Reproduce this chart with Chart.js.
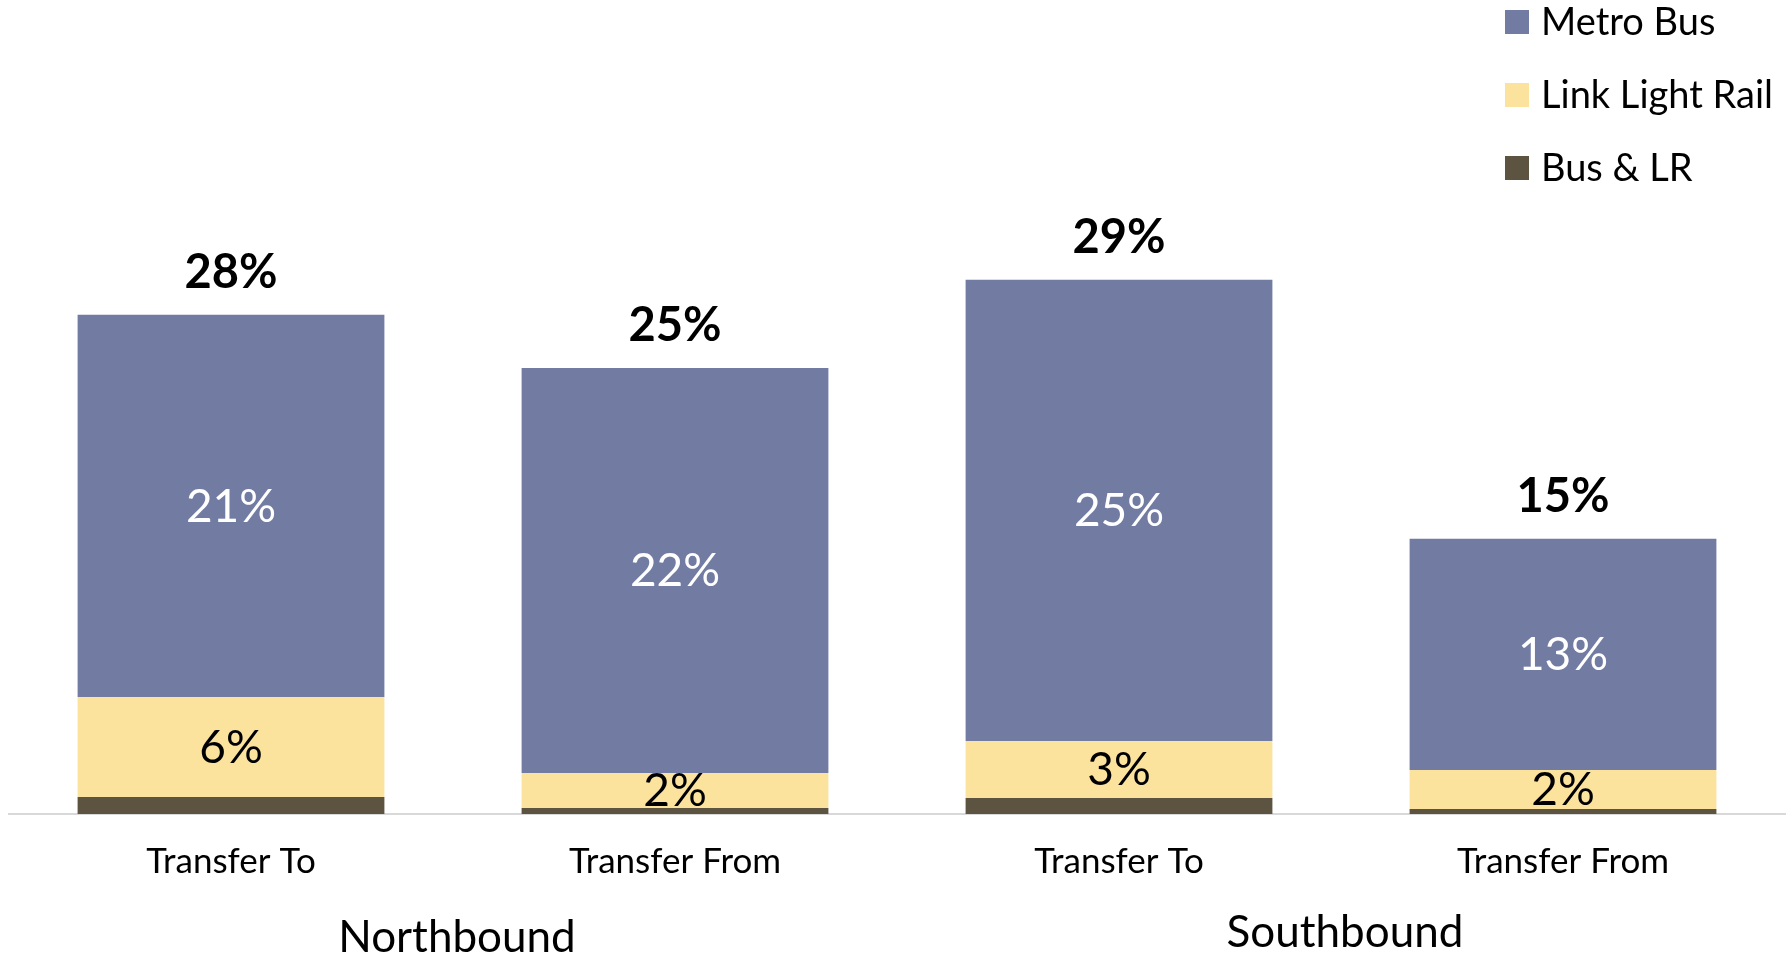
<!DOCTYPE html>
<html>
<head>
<meta charset="utf-8">
<script src="https://cdn.jsdelivr.net/npm/chart.js@4.4.1/dist/chart.umd.min.js"></script>
<style>
  html, body { margin: 0; padding: 0; background: #ffffff; }
  #c { display: block; }
</style>
</head>
<body>
<canvas id="c" width="1792" height="956"></canvas>
<script>
// ---- Data ----
const categories = ["Transfer To", "Transfer From", "Transfer To", "Transfer From"];
const groups = ["Northbound", "Southbound"];
const seriesNames = ["Metro Bus", "Link Light Rail", "Bus & LR"];
const metroBus = [21.08, 22.35, 25.44, 12.75];
const linkLightRail = [5.52, 1.93, 3.15, 2.15];
const busAndLR = [0.94, 0.33, 0.88, 0.28];

const COLORS = { metro: "#727CA3", link: "#FBE29D", both: "#5D5341" };
const FONT = "Lato, 'Open Sans', 'Noto Sans', sans-serif";

const labelPlugin = {
  id: "customLabels",
  afterDatasetsDraw(chart) {
    const ctx = chart.ctx;
    const xs = chart.scales.x;
    ctx.save();
    ctx.textAlign = "center";
    ctx.textBaseline = "middle";

    // segment labels (Metro Bus & Link Light Rail)
    chart.data.datasets.forEach((ds, di) => {
      if (!ds.showValue) return;
      const meta = chart.getDatasetMeta(di);
      meta.data.forEach((el, i) => {
        const v = ds.data[i];
        ctx.font = "400 46px " + FONT;
        ctx.fillStyle = ds.valueColor;
        ctx.fillText(Math.round(v) + "%", el.x, (el.y + el.base) / 2 + 1);
      });
    });

    // totals
    const topMeta = chart.getDatasetMeta(chart.data.datasets.length - 1);
    categories.forEach((c, i) => {
      const total = metroBus[i] + linkLightRail[i] + busAndLR[i];
      const el = topMeta.data[i];
      ctx.font = "700 47px " + FONT;
      ctx.fillStyle = "#000000";
      ctx.fillText(Math.round(total) + "%", el.x, el.y - 42);
    });

    // group labels
    const groupY = [938, 933];
    groups.forEach((g, gi) => {
      const x = (xs.getPixelForValue(gi * 2) + xs.getPixelForValue(gi * 2 + 1)) / 2;
      ctx.font = "400 44px " + FONT;
      ctx.fillStyle = "#000000";
      ctx.fillText(g, x + 4, groupY[gi]);
    });

    // legend (top to bottom: Metro Bus, Link Light Rail, Bus & LR)
    const legendColors = [COLORS.metro, COLORS.link, COLORS.both];
    ctx.textAlign = "left";
    seriesNames.forEach((name, i) => {
      const cy = 22 + i * 73;
      ctx.fillStyle = legendColors[i];
      ctx.fillRect(1505, cy - 12, 24, 24);
      ctx.font = "400 38px " + FONT;
      ctx.fillStyle = "#000000";
      ctx.fillText(name, 1541, cy + 1);
    });
    ctx.restore();
  }
};

new Chart(document.getElementById("c"), {
  type: "bar",
  data: {
    labels: categories,
    datasets: [
      { label: seriesNames[2], data: busAndLR, backgroundColor: COLORS.both, showValue: false },
      { label: seriesNames[1], data: linkLightRail, backgroundColor: COLORS.link, showValue: true, valueColor: "#000000" },
      { label: seriesNames[0], data: metroBus, backgroundColor: COLORS.metro, showValue: true, valueColor: "#ffffff" }
    ]
  },
  options: {
    responsive: false,
    animation: false,
    devicePixelRatio: 1,
    layout: { padding: { top: 89, left: 9, right: 7, bottom: 0 } },
    datasets: { bar: { categoryPercentage: 1.0, barPercentage: 0.691, borderWidth: 0 } },
    plugins: {
      legend: { display: false },
      tooltip: { enabled: false }
    },
    scales: {
      x: {
        stacked: true,
        grid: { display: false, drawTicks: false },
        border: { display: true, color: "#D9D9D9", width: 2 },
        ticks: { color: "#000000", font: { family: FONT, size: 35 }, padding: 27, maxRotation: 0 },
        afterFit(scale) { scale.height = 142; }
      },
      y: {
        stacked: true,
        display: false,
        min: 0,
        max: 40
      }
    }
  },
  plugins: [labelPlugin]
});
</script>
</body>
</html>
